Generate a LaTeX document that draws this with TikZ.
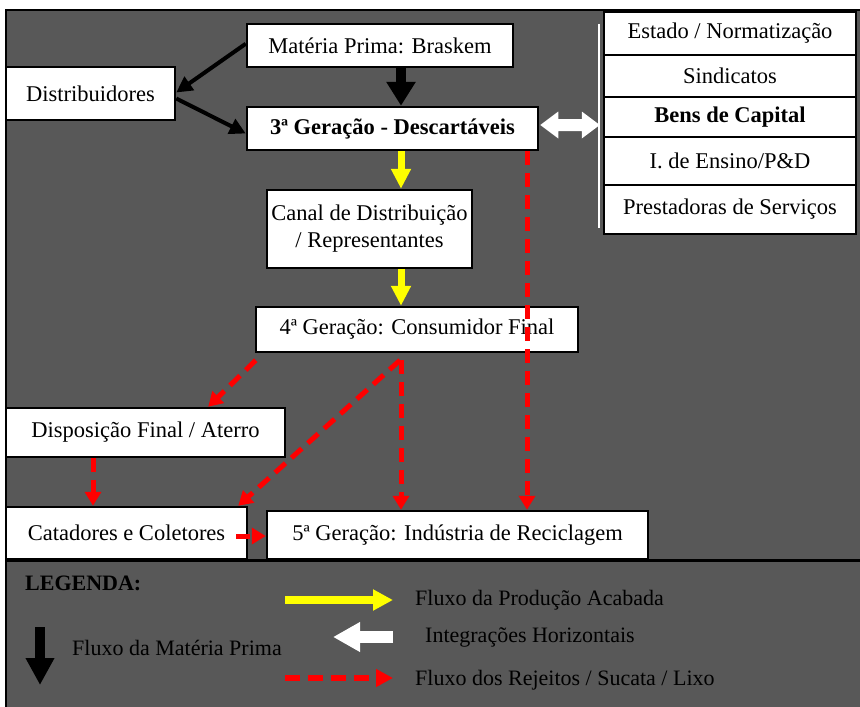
\documentclass[tikz,border=0pt]{standalone}
\usepackage{fontspec}
\setmainfont{Liberation Serif}
\usetikzlibrary{arrows.meta,calc}
\definecolor{panel}{RGB}{88,88,88}
\definecolor{flowyellow}{RGB}{255,255,0}
\definecolor{flowred}{RGB}{255,0,0}
\begin{document}
\begin{tikzpicture}[x=1pt,y=-1pt,
  box/.style={draw=black,line width=2.5pt,fill=white,inner sep=0pt,align=center,
    font=\fontsize{22.5}{27}\selectfont},
  sidebox/.style={box,minimum width=252pt},
  legtext/.style={anchor=west,inner sep=0pt,font=\fontsize{22}{26}\selectfont},
  rawflow/.style={draw=black,line width=10pt,-{Triangle[length=24pt,width=28pt]}},
  supply/.style={draw=black,line width=4pt,-{Triangle[length=16pt,width=16pt]}},
  product/.style={draw=flowyellow,line width=7pt,-{Triangle[length=20pt,width=19pt]}},
  waste/.style={draw=flowred,line width=5pt,dash pattern=on 14pt off 8pt,
    -{Triangle[length=14pt,width=16pt]}},
]
\useasboundingbox (0,0) rectangle (860,707);
\fill[white] (0,0) rectangle (860,707);
\begin{scope}
\clip (0,0) rectangle (860,707);
\draw[line width=2pt,fill=panel] (6,10) rectangle (870,720);
\draw[line width=3pt] (6,560) -- (870,560);
\end{scope}

% columns used by the vertical connectors
\coordinate (axis) at (401,0);
\coordinate (rx) at (527,0);
\coordinate (dx) at (93,0);

% main chain
\node[box,minimum width=266pt,minimum height=43pt] (mat) at (380,45.5) {Matéria Prima: Braskem};
\node[box,minimum width=169pt,minimum height=53pt] (dist) at (90.5,93.5) {Distribuidores};
\node[box,minimum width=291pt,minimum height=43pt] (ger3) at (392.5,128.5) {\bfseries 3ª Geração - Descartáveis};
\node[box,minimum width=205pt,minimum height=78pt] (canal) at (369.5,229) {Canal de Distribuição\\/ Representantes};
\node[box,minimum width=322pt,minimum height=45pt] (ger4) at (417,329.5) {4ª Geração: Consumidor Final};
\node[box,minimum width=279pt,minimum height=49pt] (disp) at (145.5,432.5) {Disposição Final / Aterro};
\node[box,minimum width=241pt,minimum height=52pt] (cat) at (126.5,533) {Catadores e Coletores};
\node[box,minimum width=381pt,minimum height=48pt] (ger5) at (457.5,535) {5ª Geração: Indústria de Reciclagem};

% side column of horizontal partners
\node[sidebox,minimum height=43pt] (est) at (730,33.5) {Estado / Normatização};
\node[sidebox,minimum height=42pt] (sind) at (730,76) {Sindicatos};
\node[sidebox,minimum height=40pt] (bens) at (730,117) {\bfseries Bens de Capital};
\node[sidebox,minimum height=48pt] (ens) at (730,161) {I. de Ensino/P\&D};
\node[sidebox,minimum height=49pt] (prest) at (730,209.5) {Prestadoras de Serviços};
\draw[white,line width=1.5pt] ([xshift=-4pt,yshift=-13pt]est.north west) -- ([xshift=-4pt,yshift=7pt]prest.south west);

% raw material
\draw[rawflow] (mat.south -| axis) -- (ger3.north -| axis);
\draw[supply] ([yshift=-21pt]mat.north west) -- ([yshift=1pt]dist.east);
\draw[supply] ([yshift=-5pt]dist.east) -- ([yshift=-5pt]ger3.west);

% horizontal integration: a double-headed block arrow between the two tips
\coordinate (hl) at ([xshift=1pt,yshift=3.5pt]ger3.east);
\coordinate (hr) at ([xshift=-3pt,yshift=-8pt]bens.west);
\fill[white] (hl) -- ($(hl)+(18,-13.5)$) -- ($(hl)+(18,-6)$) -- ($(hr)+(-18,-6)$)
  -- ($(hr)+(-18,-13.5)$) -- (hr) -- ($(hr)+(-18,13.5)$) -- ($(hr)+(-18,6)$)
  -- ($(hl)+(18,6)$) -- ($(hl)+(18,13.5)$) -- cycle;

% finished product
\draw[product] (ger3.south -| axis) -- (canal.north -| axis);
\draw[product] (canal.south -| axis) -- (ger4.north -| axis);

% waste
\draw[waste] (ger3.south -| rx) -- (ger5.north -| rx);
\draw[waste] ([xshift=1pt,yshift=-7pt]ger4.south west) -- ([xshift=-78pt]disp.north east);
\draw[waste] ([xshift=-17pt,yshift=-7pt]ger4.south) -- ([xshift=-10pt]cat.north east);
\draw[waste] ([yshift=-7pt]ger4.south -| axis) -- (ger5.north -| axis);
\draw[waste] (disp.south -| dx) -- (cat.north -| dx);
\draw[waste] ([xshift=-12pt,yshift=-3pt]cat.east) -- ([yshift=-1pt]ger5.west);

% legend
\node[anchor=west,inner sep=0pt,font=\fontsize{22}{26}\selectfont\bfseries] (leg) at (25,583) {LEGENDA:};
\coordinate (lr1a) at (40,627);
\coordinate (lr1b) at (40,685);
\draw[draw=black,line width=10pt,-{Triangle[length=27pt,width=27pt]}] (lr1a) -- (lr1b);
\node[legtext] (lraw) at (72,648) {Fluxo da Matéria Prima};

\node[legtext] (lprod) at (415,600) {Fluxo da Produção Acabada};
\coordinate (lp) at (285,600);
\draw[draw=flowyellow,line width=8pt,-{Triangle[length=20pt,width=20pt]}] (lp) -- ([xshift=-22pt]lprod.west);

\node[legtext] (lhor) at (425,637) {Integrações Horizontais};
\coordinate (lh) at (333,637);
\draw[draw=white,line width=12pt,-{Triangle[length=27pt,width=28pt]}] ([xshift=-32pt]lhor.west) -- (lh);

\node[legtext] (lwas) at (415,680) {Fluxo dos Rejeitos / Sucata / Lixo};
\coordinate (lw) at (285,678);
\draw[draw=flowred,line width=6pt,dash pattern=on 15pt off 8pt,-{Triangle[length=17pt,width=17pt]}] (lw) -- ([xshift=-22pt,yshift=2pt]lwas.west);
\end{tikzpicture}
\end{document}
